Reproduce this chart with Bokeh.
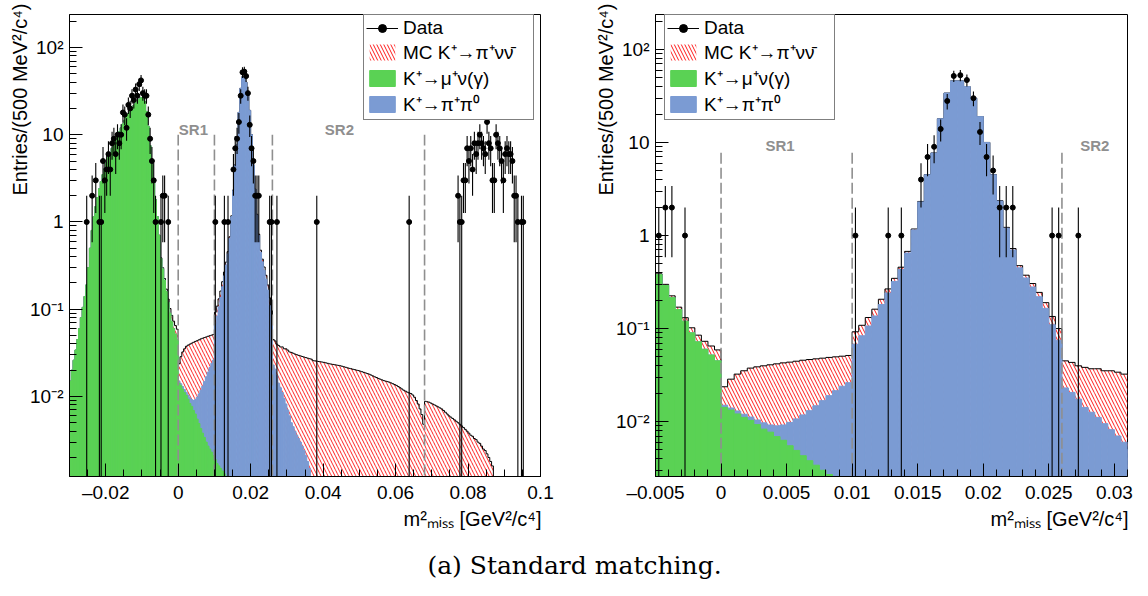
import math
from bokeh.plotting import figure
from bokeh.models import (ColumnDataSource, FixedTicker, Label, Legend, LegendItem, Range1d, Title)
from bokeh.layouts import column, row
from bokeh.embed import file_html
from bokeh.resources import INLINE
from bokeh.core.properties import value

# ---------------- data (binning: 500 MeV^2/c^4 = 0.0005 GeV^2/c^4) ----------------
BIN_WIDTH = 0.0005
HIST_LO = -0.03
N_BINS = 260

# K+ -> mu+ nu(gamma) MC, first bin starts at green_start
green_start = -0.03
green_vals = [
    0.015, 0.020, 0.026, 0.034, 0.045, 0.060, 0.080, 0.105, 0.14, 0.19,
    0.30, 0.50, 0.80, 1.15, 1.5, 1.9, 2.4, 2.9, 3.5, 4.1,
    4.8, 5.5, 6.2, 7.0, 7.8, 8.6, 9.6, 10.8, 12.0, 13.3,
    14.6, 16.0, 17.4, 18.8, 20.2, 21.6, 23.0, 24.3, 25.5, 26.5,
    26.8, 24.0, 18.5, 12.5, 7.5, 4.6, 2.9, 1.8, 1.15, 0.70,
    0.38, 0.29, 0.215, 0.16, 0.12, 0.09, 0.072, 0.06, 0.052, 0.045,
    0.0142, 0.0133, 0.0121, 0.0111, 0.0103, 0.0093, 0.0083, 0.0077, 0.0069, 0.0063,
    0.0055, 0.0049, 0.0043, 0.0038, 0.0034, 0.0030, 0.0027, 0.0025, 0.0023, 0.0021,
    0.0019, 0.0017, 0.0016, 0.0015, 0.0014, 0.0013, 0.0012, 0.0011,
]

# K+ -> pi+ pi0 MC
blue_start = 0.0
blue_vals = [
    0.0008, 0.0007, 0.0009, 0.0009, 0.0009, 0.0011, 0.0014, 0.0015, 0.0021, 0.0029,
    0.0043, 0.0058, 0.0075, 0.0093, 0.0114, 0.0138, 0.0163, 0.0190, 0.0217, 0.0241,
    0.066, 0.082, 0.105, 0.135, 0.18, 0.24, 0.32, 0.43, 0.65, 1.15,
    2.3, 4.5, 7.7, 18.0, 34.0, 46.0, 46.0, 40.0, 30.0, 19.0,
    10.0, 4.5, 2.35, 1.2, 0.70, 0.45, 0.35, 0.28, 0.22, 0.165,
    0.11, 0.075, 0.023, 0.0206, 0.0174, 0.0142, 0.0126, 0.0111, 0.0095, 0.0082,
    0.0070, 0.0060, 0.0050, 0.0045, 0.0040, 0.0036, 0.0033, 0.0030, 0.0027, 0.0024,
    0.0021, 0.0018, 0.0015, 0.0012,
]

# MC K+ -> pi+ nu nubar
red_start = -0.0065
red_vals = [
    0.002, 0.004, 0.006,
    0.008, 0.009, 0.010, 0.010, 0.011, 0.012, 0.013, 0.013, 0.013, 0.014,
    0.0087, 0.0146, 0.0194, 0.0232, 0.0264, 0.0284, 0.0301, 0.0316, 0.0328, 0.0336,
    0.0338, 0.0339, 0.0339, 0.0334, 0.0325, 0.0313, 0.0300, 0.0282, 0.0265, 0.0252,
    0.0245, 0.0248, 0.0250, 0.0252, 0.0254, 0.0256, 0.0258, 0.0260, 0.0261, 0.0262,
    0.0263, 0.0264, 0.0264, 0.0265, 0.0265, 0.0265, 0.0264, 0.0263, 0.0262, 0.0260,
    0.0258, 0.0256, 0.0254, 0.0252, 0.0250, 0.0250, 0.0250, 0.0250, 0.0250, 0.0250,
    0.0250, 0.0250,
    0.0220, 0.0227, 0.0224, 0.0241, 0.0244, 0.0259, 0.0257, 0.0270, 0.0270, 0.0264,
    0.0270, 0.0268, 0.0266, 0.0265, 0.0263, 0.0262, 0.0260, 0.0259,
    0.0258, 0.0257, 0.0256, 0.0256, 0.0257, 0.0256, 0.0254, 0.0252, 0.0250, 0.0248,
    0.0246, 0.0243, 0.0240, 0.0237, 0.0235, 0.0233, 0.0231, 0.0229, 0.0227, 0.0225,
    0.0222, 0.0219, 0.0216, 0.0213, 0.0210, 0.0208, 0.0205, 0.0203, 0.0200, 0.0198,
    0.0195, 0.0192, 0.0189, 0.0186, 0.0183, 0.0180, 0.0176, 0.0172, 0.0168, 0.0165,
    0.0161, 0.0158, 0.0155, 0.0152, 0.0150, 0.0148, 0.0146, 0.0143, 0.0140, 0.0137,
    0.0134, 0.0130, 0.0126, 0.0122, 0.0118, 0.0115, 0.0112, 0.0110, 0.0108, 0.0104,
    0.0098, 0.0090, 0.0082, 0.0072, 0.0062, 0.0048, 0.0088, 0.0087, 0.0086, 0.0084,
    0.0082, 0.0080, 0.0078, 0.0076, 0.0074, 0.0072, 0.0069, 0.0066, 0.0063, 0.0060,
    0.0058, 0.0056, 0.0054, 0.0052, 0.0050, 0.0048, 0.0046, 0.0044, 0.0042, 0.0040,
    0.0038, 0.0036, 0.0035, 0.0033, 0.0032, 0.0030, 0.0029, 0.0027, 0.0025, 0.0024,
    0.0022, 0.0020, 0.0018, 0.0016,
]

# Data: bin centres and entries (non-empty bins only)
data_x = [
    -0.02525, -0.02375, -0.02275, -0.02175, -0.02125, -0.02075, -0.02025, -0.01975,
    -0.01925, -0.01875, -0.01825, -0.01775, -0.01725, -0.01675, -0.01625, -0.01575,
    -0.01525, -0.01475, -0.01425, -0.01375, -0.01325, -0.01275, -0.01225, -0.01175,
    -0.01125, -0.01075, -0.01025, -0.00975, -0.00925, -0.00875, -0.00825, -0.00775,
    -0.00725, -0.00675, -0.00625, -0.00475, -0.00425, -0.00375, -0.00275,
    0.01025, 0.01275, 0.01375, 0.01525, 0.01575, 0.01625, 0.01675, 0.01725, 0.01775,
    0.01825, 0.01875, 0.01925, 0.01975, 0.02025, 0.02075, 0.02125, 0.02175, 0.02225,
    0.02525, 0.02575, 0.02725, 0.03825, 0.06375,
    0.07725, 0.07775, 0.07825, 0.07875, 0.07925, 0.07975, 0.08025, 0.08075, 0.08125,
    0.08175, 0.08225, 0.08275, 0.08325, 0.08375, 0.08425, 0.08475, 0.08525, 0.08575,
    0.08625, 0.08675, 0.08725, 0.08775, 0.08825, 0.08875, 0.08925, 0.08975, 0.09025,
    0.09075, 0.09125, 0.09175, 0.09225, 0.09275, 0.09325, 0.09375, 0.09475, 0.09525,
]
data_n = [
    1, 2, 3, 1, 1, 5, 3, 4,
    6, 4, 8, 9, 6, 10, 8, 10,
    18, 17, 12, 22, 20, 28, 25, 33,
    28, 38, 42, 30, 28, 28, 17, 9,
    5, 3, 1, 1, 2, 2, 1,
    1, 1, 1, 4, 7, 9, 14, 28, 52,
    53, 47, 30, 13, 7, 5, 2, 2, 2,
    1, 1, 1, 1, 1,
    2, 1, 1, 3, 3, 7, 5, 7, 4,
    8, 6, 8, 10, 8, 7, 6, 14, 8,
    7, 3, 3, 10, 8, 7, 5, 3, 6,
    7, 6, 6, 5, 2, 2, 1, 1, 1,
]

# signal-region boundaries
sr_bounds_left = [0.0, 0.01, 0.026, 0.068]
sr_bounds_right = [0.0, 0.01, 0.026]
sr_names = ["SR1", "SR2"]

legend_labels = ["Data", "MC K\u207a\u2192\u03c0\u207a\u03bd\u03bd\u0304",
                 "K\u207a\u2192\u03bc\u207a\u03bd(\u03b3)", "K\u207a\u2192\u03c0\u207a\u03c0\u2070"]
x_title = "m\u00b2\u2098\u1d62\u209b\u209b [GeV\u00b2/c\u2074]"
y_title = "Entries/(500 MeV\u00b2/c\u2074)"

# ---------------- build stacked histograms ----------------
def place(start, vals):
    arr = [0.0] * N_BINS
    i0 = int(round((start - HIST_LO) / BIN_WIDTH))
    for k, v in enumerate(vals):
        arr[i0 + k] = v
    return arr

g = place(green_start, green_vals)
b = place(blue_start, blue_vals)
r = place(red_start, red_vals)
lefts = [HIST_LO + i * BIN_WIDTH for i in range(N_BINS)]
c1 = g
c2 = [g[i] + b[i] for i in range(N_BINS)]
c3 = [c2[i] + r[i] for i in range(N_BINS)]
FLOOR = 1e-6

def quad_src(cum):
    idx = [i for i in range(N_BINS) if cum[i] > 0]
    return ColumnDataSource(dict(left=[lefts[i] for i in idx],
                                 right=[lefts[i] + BIN_WIDTH for i in idx],
                                 top=[cum[i] for i in idx],
                                 bottom=[FLOOR] * len(idx)))

step_x = lefts + [lefts[-1] + BIN_WIDTH]
step_y = [max(v, FLOOR) for v in c3] + [max(c3[-1], FLOOR)]

err_lo = [max(n - math.sqrt(n), FLOOR) for n in data_n]
err_hi = [n + math.sqrt(n) for n in data_n]

GREEN = "#5AD254"
BLUE = "#7B9BD3"
RED = "#FF1A1A"
GREY = "#8F8F8F"
FONT = "Liberation Sans"
FIG_H = 540

def log_minor(lo_exp, hi_exp):
    out = []
    for e in range(lo_exp, hi_exp + 1):
        for k in range(2, 10):
            out.append(k * 10.0 ** e)
    return out

def make_panel(width, bl, br, xr, yr, xmaj, xmin, xlabels, bounds, bound_top,
               sr_x, sr_y, legend_xy):
    p = figure(width=width, height=FIG_H, output_backend="svg", toolbar_location=None,
               x_range=Range1d(*xr), y_range=Range1d(*yr), y_axis_type="log",
               min_border_left=bl, min_border_right=br, min_border_top=14,
               min_border_bottom=64)
    p.xgrid.visible = False
    p.ygrid.visible = False
    p.outline_line_color = "black"
    p.outline_line_width = 1
    p.background_fill_color = "white"
    p.border_fill_color = "white"

    # stacked MC
    r_mc = p.quad(left="left", right="right", top="top", bottom="bottom", source=quad_src(c3),
                  fill_alpha=0, line_alpha=0, hatch_pattern="\\", hatch_color=RED,
                  hatch_weight=1, hatch_scale=7)
    p.step(x=step_x, y=step_y, mode="after", line_color="black", line_width=1)
    r_b = p.quad(left="left", right="right", top="top", bottom="bottom", source=quad_src(c2),
                 fill_color=BLUE, line_color=BLUE, line_width=1)
    r_g = p.quad(left="left", right="right", top="top", bottom="bottom", source=quad_src(c1),
                 fill_color=GREEN, line_color=GREEN, line_width=1)

    # signal region boundaries
    p.segment(x0=bounds, x1=bounds, y0=[FLOOR] * len(bounds), y1=[bound_top] * len(bounds),
              line_color=GREY, line_width=1.6, line_dash="11 4")
    p.text(x=sr_x, y=[sr_y] * len(sr_x), text=sr_names, text_font=value(FONT),
           text_font_style="bold", text_font_size="15px", text_color=GREY,
           text_align="center", text_baseline="middle")

    # data
    r_err = p.segment(x0=data_x, x1=data_x, y0=err_lo, y1=err_hi, line_color="black",
                      line_width=1.1)
    r_dot = p.scatter(x=data_x, y=data_n, marker="circle", size=5, fill_color="black",
                      line_color="black")

    # axes
    p.xaxis.ticker = FixedTicker(ticks=xmaj, minor_ticks=xmin)
    p.xaxis.major_label_overrides = xlabels
    p.yaxis.ticker = FixedTicker(ticks=[0.01, 0.1, 1, 10, 100], minor_ticks=log_minor(-3, 2))
    p.yaxis.major_label_overrides = {0.01: "10\u207b\u00b2", 0.1: "10\u207b\u00b9",
                                     1: "1", 10: "10", 100: "10\u00b2"}
    for ax in (p.xaxis[0], p.yaxis[0]):
        ax.major_tick_in = 13
        ax.major_tick_out = 0
        ax.minor_tick_in = 7
        ax.minor_tick_out = 0
        ax.major_label_text_font = FONT
        ax.major_label_text_font_size = "19px"
        ax.major_label_text_color = "black"
        ax.axis_line_color = "black"
        ax.major_tick_line_color = "black"
        ax.minor_tick_line_color = "black"
    p.xaxis.major_label_standoff = 5
    p.yaxis.major_label_standoff = 6

    # axis titles as side-panel titles (right/top aligned, ROOT style)
    p.add_layout(Title(text=y_title, align="right", offset=-11, standoff=-6,
                       text_font=FONT, text_font_size="20px", text_font_style="normal",
                       text_color="black"), "left")
    p.add_layout(Title(text=x_title, align="right", offset=-1, standoff=0,
                       text_font=FONT, text_font_size="20px", text_font_style="normal",
                       text_color="black"), "below")

    legend = Legend(items=[LegendItem(label=legend_labels[0], renderers=[r_err, r_dot]),
                           LegendItem(label=legend_labels[1], renderers=[r_mc]),
                           LegendItem(label=legend_labels[2], renderers=[r_g]),
                           LegendItem(label=legend_labels[3], renderers=[r_b])],
                    location=legend_xy, orientation="vertical",
                    glyph_width=32, glyph_height=20, label_height=20, label_width=128,
                    label_standoff=5, spacing=0, padding=2, margin=0,
                    label_text_font=FONT, label_text_font_size="19px",
                    label_text_color="black", label_text_baseline="middle",
                    border_line_color="black", border_line_width=1,
                    background_fill_color="white", background_fill_alpha=1)
    p.add_layout(legend)
    return p

left_xlabels = {-0.02: "\u20130.02", 0: "0", 0.02: "0.02", 0.04: "0.04",
                0.06: "0.06", 0.08: "0.08", 0.1: "0.1"}
left_minor = [round(-0.03 + 0.005 * i, 4) for i in range(27)]
p1 = make_panel(570, 69, 30, (-0.03, 0.1), (0.00121, 239),
                [-0.02, 0, 0.02, 0.04, 0.06, 0.08, 0.1], left_minor, left_xlabels,
                sr_bounds_left, 10.0, [0.0042, 0.0445], 11.6, (294, 356))

right_xlabels = {-0.005: "\u20130.005", 0: "0", 0.005: "0.005", 0.01: "0.01",
                 0.015: "0.015", 0.02: "0.02", 0.025: "0.025", 0.03: "0.03"}
right_minor = [round(-0.005 + 0.001 * i, 4) for i in range(37)]
p2 = make_panel(578, 85, 21, (-0.005, 0.031), (0.00257, 238),
                [-0.005, 0, 0.005, 0.01, 0.015, 0.02, 0.025, 0.03], right_minor,
                right_xlabels, sr_bounds_right, 7.8, [0.0045, 0.0285], 9.2, (9, 356))

p3 = figure(width=1148, height=56, output_backend="svg", toolbar_location=None,
            x_range=Range1d(0, 1), y_range=Range1d(0, 1), min_border=0,
            x_axis_location=None, y_axis_location=None)
p3.grid.visible = False
p3.outline_line_color = None
p3.add_layout(Label(x=0.5, y=0, y_offset=31, text="(a) Standard matching.",
                    text_align="center", text_baseline="alphabetic",
                    text_font="DejaVu Serif", text_font_size="25px", text_color="black"))

layout = column(row(p1, p2), p3)
open("out.html", "w").write(file_html(layout, INLINE))
